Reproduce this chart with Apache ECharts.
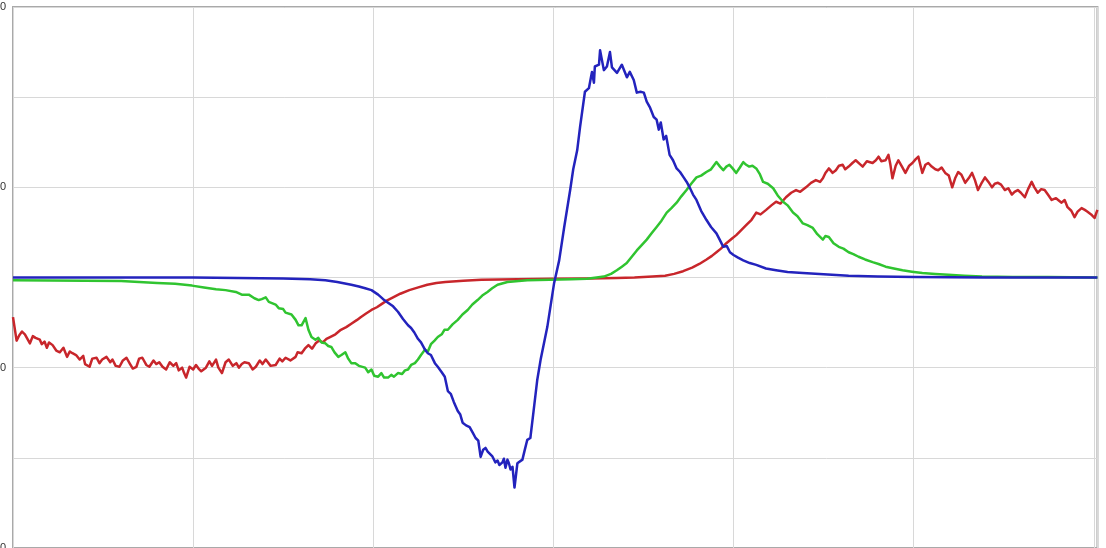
<!DOCTYPE html>
<html>
<head>
<meta charset="utf-8">
<script src="https://cdn.jsdelivr.net/npm/echarts@6/dist/echarts.min.js"></script>
<style>
  html, body { margin: 0; padding: 0; background: #ffffff; overflow: hidden; width: 1106px; height: 548px; }
  #chart { position: absolute; left: -20px; top: 0; width: 1126px; height: 580px; }
</style>
</head>
<body>
<div id="chart"></div>
<script>
// Axis ranges and tick spacing
const xRange = [0, 602];
const xStep = 100;
const yRange = [-30, 30];
const yStep = 10;
const yLabelValues = [30, 10, -10, -30];

// Measured traces as [sample, value]
const redData = [
  [0,-4.4],[2,-7.0],[3.5,-6.4],[5,-6.0],[6.6,-6.3],[8,-6.8],[9.4,-7.3],[11,-6.5],[12.5,-6.7],[14.9,-6.9],[16,-7.4],[17.5,-7.1],
  [18.8,-7.8],[20,-7.2],[22,-7.5],[24,-8.1],[26,-8.3],[28,-7.8],[30,-8.8],[31.5,-8.2],[33,-8.4],[35,-8.6],[37,-9.1],[39,-8.7],
  [40,-9.6],[42.5,-9.9],[44,-9.0],[46.4,-8.9],[48,-9.5],[49.5,-9.1],[51.9,-8.8],[54,-9.4],[55.2,-9.1],[57,-9.8],[59.1,-9.9],
  [61,-9.2],[63,-8.9],[65,-9.6],[66.5,-10.1],[68.5,-9.9],[70,-9.0],[71.8,-8.9],[74,-9.7],[75.7,-9.9],[78,-9.2],[79.5,-9.6],
  [81.2,-9.4],[83,-9.9],[85,-10.2],[87,-9.4],[89,-9.8],[90.6,-9.5],[92,-10.3],[93.9,-10.0],[95,-10.6],[96.1,-11.1],[98,-9.9],
  [100,-10.2],[101.6,-9.7],[103,-10.1],[104.5,-10.4],[107.1,-10.0],[109,-9.3],[110.5,-9.8],[112.7,-9.1],[114,-10.0],[116,-10.6],
  [118,-9.4],[119.8,-9.1],[122,-9.8],[124,-9.5],[125.4,-10.0],[127,-9.6],[128.5,-9.4],[130.9,-9.5],[133,-10.2],[134.8,-9.9],
  [137,-9.2],[138.5,-9.6],[140.3,-9.1],[143,-9.8],[145.8,-9.7],[148,-9.0],[149.5,-9.3],[151.3,-8.9],[154,-9.2],[156.9,-8.8],
  [158,-8.3],[160.2,-8.4],[162,-7.9],[164,-7.5],[166,-7.9],[168,-7.3],[170,-7.0],[172,-7.2],[174,-6.8],[176,-6.6],[179,-6.3],
  [182,-5.8],[185,-5.5],[188,-5.1],[191,-4.7],[193,-4.4],[196,-4.0],[199,-3.6],[202,-3.3],[205,-2.9],[208,-2.5],[211,-2.2],
  [215,-1.8],[220,-1.4],[225,-1.1],[230,-0.8],[235,-0.6],[240,-0.5],[250,-0.35],[260,-0.25],[280,-0.2],[300,-0.15],[320,-0.1],
  [335,-0.05],[345,0],[355,0.1],[362,0.2],[367,0.4],[372,0.7],[377,1.1],[381,1.5],[385,2.0],[388,2.4],[390.5,2.8],[393,3.2],
  [396,3.8],[399,4.3],[401.5,4.7],[404,5.2],[407,5.8],[410,6.4],[412.6,7.2],[415,7.0],[418.1,7.5],[421,8.0],[423.6,8.4],
  [426,8.2],[429.1,8.9],[432,9.4],[434.7,9.7],[437,9.5],[440.2,10.0],[443,10.5],[445.7,10.8],[448,10.6],[449.6,11.0],[451,11.6],
  [452.9,12.1],[455,11.6],[456.8,11.9],[458.5,12.4],[460.6,12.5],[462,12.0],[463.9,12.3],[466,12.7],[467.8,13.0],[470,12.6],
  [471.7,12.3],[474,12.9],[477.2,12.7],[479,13.0],[480.5,13.4],[482,12.9],[484.4,13.0],[486,13.6],[487,12.6],[488.2,11.0],
  [490,12.4],[491.5,13.0],[493.5,12.3],[495.4,11.6],[497.5,12.4],[499.3,12.7],[501,13.1],[502.6,13.4],[503.8,12.4],[504.8,11.6],
  [506.5,12.5],[508.1,12.7],[510,12.3],[512,12.0],[513.6,11.9],[515.5,12.2],[517.5,11.6],[519.5,11.3],[521.4,10.0],[523,11.0],
  [524.7,11.7],[526.5,11.4],[528.6,10.5],[530.5,11.0],[532.4,11.6],[534,10.8],[535.7,9.7],[537.5,10.4],[539.6,11.1],[541.5,10.6],
  [543.5,10.0],[545,10.4],[546.8,10.5],[548.5,10.3],[550.6,9.7],[552.5,9.9],[554.5,9.2],[556,9.5],[557.8,9.7],[559.5,9.4],
  [561.7,8.9],[563.5,9.8],[565.5,10.6],[567,10.0],[568.9,9.4],[570.8,9.8],[572.7,9.7],[574.5,9.2],[576.6,8.6],[579,8.8],
  [582.1,8.3],[583.8,8.6],[585.4,7.8],[587.5,7.4],[589.3,6.7],[591,7.3],[593.2,7.7],[595,7.5],[596.5,7.3],[598.5,7.0],
  [600.4,6.6],[602,7.5]
];

const greenData = [
  [0,-0.3],[40,-0.35],[60,-0.4],[80,-0.6],[90,-0.7],[99.4,-0.9],[106,-1.1],[112.7,-1.3],[118,-1.4],[123.7,-1.6],[127,-1.9],
  [130.9,-1.9],[134,-2.3],[136.4,-2.5],[138.1,-2.4],[140.3,-2.2],[142,-2.7],[145.8,-3.0],[147.5,-3.4],[150,-3.5],[151.3,-3.9],
  [154.6,-4.1],[156.9,-4.7],[158.5,-5.3],[160.2,-5.3],[162.4,-4.5],[164,-5.8],[165.7,-6.6],[167.9,-6.9],[169.5,-6.7],
  [171.2,-7.2],[173.4,-7.3],[175,-7.6],[176.7,-7.7],[178.5,-8.3],[180.6,-8.8],[182.3,-8.6],[184.5,-8.3],[186.1,-9.0],
  [187.8,-9.5],[190,-9.5],[192,-9.8],[195.5,-10.0],[197.2,-10.5],[199,-10.2],[200.5,-10.9],[202.7,-11.0],[204.5,-10.6],
  [206,-11.1],[208.2,-11.1],[210,-10.8],[211.5,-11.0],[213.7,-10.6],[216,-10.7],[217.6,-10.3],[219.3,-10.2],[221,-9.7],
  [223.1,-9.5],[224.8,-9.1],[226.5,-8.6],[228.7,-8.0],[230.3,-8.2],[232,-7.4],[234,-7.0],[235.8,-6.6],[238,-6.3],[239.5,-5.8],
  [241.4,-5.8],[244,-5.2],[246.9,-4.7],[249.5,-4.1],[252.4,-3.6],[255,-3.0],[257.9,-2.5],[260.5,-2.0],[263.4,-1.6],[266,-1.2],
  [269,-0.8],[274.5,-0.5],[285.5,-0.3],[310,-0.2],[318.7,-0.15],[324,0],[328,0.1],[332,0.4],[335.2,0.8],[338,1.2],[340.7,1.6],
  [343.5,2.3],[346.3,3.0],[349,3.6],[351.8,4.2],[354.5,4.9],[357.3,5.6],[360,6.3],[362.9,7.2],[365.5,7.7],[368.4,8.3],
  [371,9.0],[373.9,9.7],[376.5,10.4],[379.4,11.1],[382,11.3],[384.9,11.7],[387.5,12.0],[390.5,12.8],[392.5,12.3],[394.3,11.9],
  [396,12.3],[397.7,12.5],[399.5,12.1],[401.5,11.6],[403.5,12.2],[405.4,12.8],[407,12.5],[408.7,12.3],[410.5,12.4],[412.6,12.1],
  [414.5,11.5],[416.4,10.6],[419,10.4],[422,9.9],[424.5,9.1],[427.5,8.4],[430,8.0],[433,7.2],[435.5,6.8],[438.5,6.0],[441,5.8],
  [444,5.5],[446.5,4.8],[449.6,4.2],[451,4.6],[452.9,4.5],[455.5,3.8],[458.4,3.4],[461,3.2],[463.9,2.8],[466.5,2.6],[469.4,2.3],
  [473,2.0],[477.2,1.7],[480.5,1.5],[484.4,1.2],[489,1.0],[493.8,0.8],[499,0.65],[504.8,0.5],[512,0.4],[519.2,0.3],[528,0.2],
  [537.9,0.1],[555,0.05],[574.4,0.05],[602,0]
];

const blueData = [
  [0,0],[100,0],[150,-0.1],[165,-0.2],[173.4,-0.3],[180,-0.5],[187.8,-0.8],[192,-1.0],[195.5,-1.2],[199,-1.4],[202.7,-1.9],
  [205.5,-2.4],[208.2,-2.8],[211,-3.2],[213.7,-3.8],[216.5,-4.6],[219.3,-5.3],[221,-5.6],[222.8,-6.1],[224.8,-6.8],[226.5,-7.2],
  [228.7,-8.0],[230.3,-8.4],[232,-8.6],[234.2,-9.5],[235.8,-9.9],[238,-10.5],[239.7,-11.0],[241.4,-12.6],[243,-12.9],
  [244.7,-13.8],[246.9,-14.8],[248.3,-15.2],[249.6,-16.1],[251.5,-16.4],[253.5,-16.6],[255.2,-17.2],[256.8,-17.8],[258.3,-18.1],
  [259.6,-19.9],[261,-19.1],[262.3,-18.9],[263.5,-19.3],[264.5,-19.4],[266,-19.8],[267.8,-20.5],[269,-20.3],[270,-20.8],
  [271.7,-20.5],[272.5,-20.1],[273.4,-21.1],[274.5,-20.2],[275.3,-20.6],[276.2,-21.3],[277.3,-21.0],[278.4,-23.3],[280,-20.6],
  [282.8,-20.2],[284,-19.2],[285.5,-18.0],[287.2,-17.8],[289,-14.8],[291,-11.4],[293,-9.0],[296.6,-5.5],[300.4,-0.6],[303.2,1.9],
  [306,5.6],[309.3,9.7],[311,12.0],[313.2,14.1],[314.8,16.7],[317.5,20.6],[319.7,21.0],[321.4,22.8],[322.5,21.6],[323,23.4],
  [325.3,23.6],[325.9,25.2],[328,23.0],[329.7,23.4],[331.4,25.0],[332.5,23.3],[335.3,22.7],[338,23.6],[340.8,22.2],[342.4,22.8],
  [344.6,21.9],[346.3,20.5],[348.3,20.6],[350.2,20.5],[351.8,19.5],[353.5,18.9],[355.7,17.8],[357.3,17.5],[358.5,16.4],
  [359.6,17.2],[361.2,15.3],[362.6,15.7],[364.5,13.6],[366.4,13.0],[368.4,12.1],[370.3,11.7],[372.3,11.1],[374,10.6],
  [375.6,10.0],[377.5,9.2],[379.4,8.6],[382,7.4],[384.9,6.4],[387.5,5.6],[390.5,4.9],[392.3,4.2],[394.3,3.4],[396.2,3.5],
  [398,2.8],[400,2.5],[402.5,2.2],[405.4,1.9],[409,1.6],[412.6,1.4],[418,1.0],[423.6,0.8],[430,0.6],[438.5,0.5],[450,0.35],
  [463.9,0.2],[480,0.1],[501,0.05],[540,0],[602,0]
];

const seriesColors = { red: '#c8262b', green: '#30c430', blue: '#2323bd' };

const chart = echarts.init(document.getElementById('chart'), null, { renderer: 'canvas' });

function traceSeries(name, data, color) {
  return {
    name: name,
    type: 'line',
    data: data,
    showSymbol: false,
    symbol: 'none',
    smooth: false,
    lineStyle: { color: color, width: 2.5, join: 'round' },
    itemStyle: { color: color },
    z: 3
  };
}

chart.setOption({
  animation: false,
  backgroundColor: '#ffffff',
  grid: {
    left: 33, right: 3, top: 7, bottom: 32,
    show: true,
    borderColor: '#a9a9a9',
    borderWidth: 2,
    backgroundColor: 'transparent'
  },
  xAxis: {
    type: 'value',
    min: xRange[0], max: xRange[1], interval: xStep,
    axisLine: { show: false },
    axisTick: { show: false },
    axisLabel: { show: true, color: '#333', fontSize: 11, margin: 8 },
    splitLine: { show: true, lineStyle: { color: '#d8d8d8', width: 1 } }
  },
  yAxis: {
    type: 'value',
    min: yRange[0], max: yRange[1], interval: yStep,
    axisLine: { show: false },
    axisTick: { show: false },
    axisLabel: {
      show: true, color: '#333', fontSize: 11, margin: 7,
      formatter: function (v) { return yLabelValues.indexOf(v) >= 0 ? String(v) : ''; }
    },
    splitLine: { show: true, lineStyle: { color: '#d8d8d8', width: 1 } }
  },
  series: [
    traceSeries('red', redData, seriesColors.red),
    traceSeries('green', greenData, seriesColors.green),
    traceSeries('blue', blueData, seriesColors.blue)
  ]
});
</script>
</body>
</html>
